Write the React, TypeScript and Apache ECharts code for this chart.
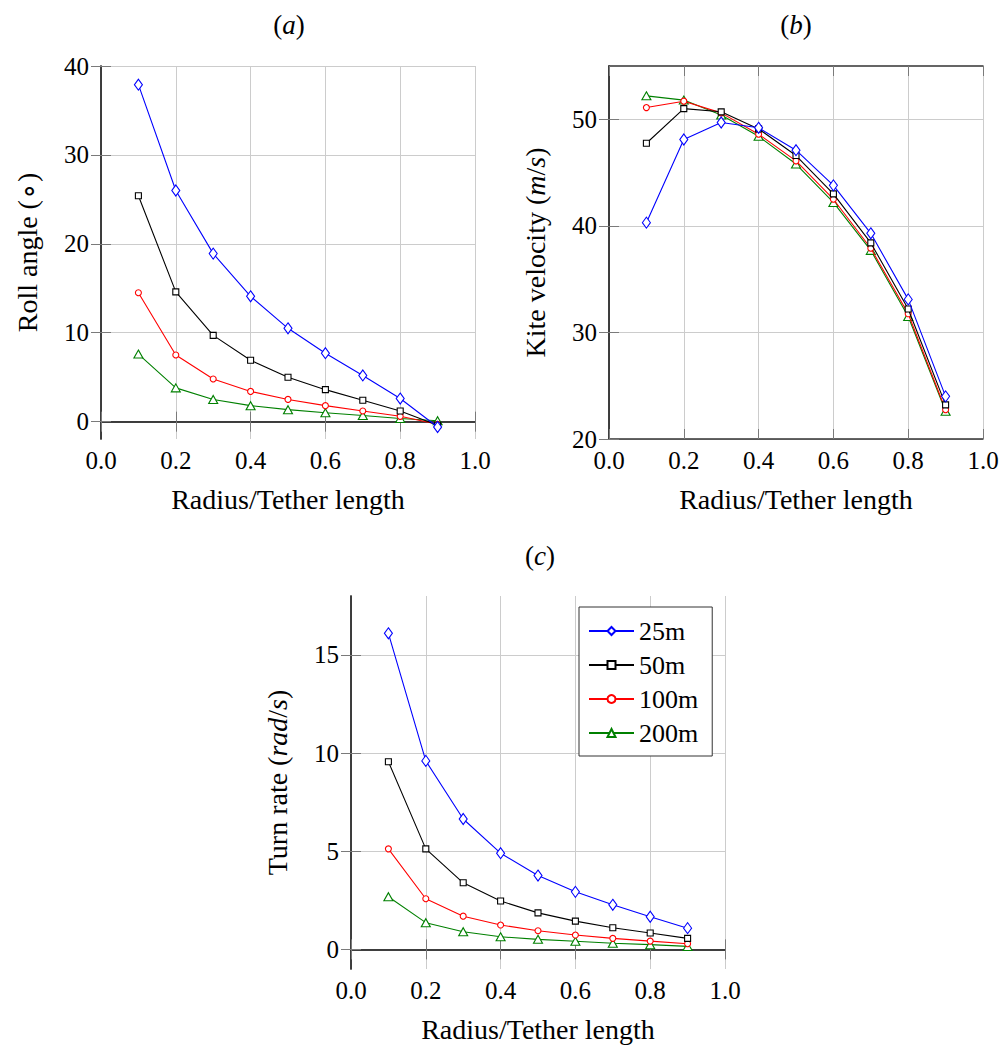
import React, { useEffect, useRef } from 'react';
import * as echarts from 'echarts';

const xValues = [0.1, 0.2, 0.3, 0.4, 0.5, 0.6, 0.7, 0.8, 0.9];
const seriesNames = ['25m', '50m', '100m', '200m'];

const rollTicks = [0, 10, 20, 30, 40];
const roll25 = [37.9, 26.0, 18.9, 14.1, 10.5, 7.7, 5.2, 2.6, -0.6];
const roll50 = [25.4, 14.6, 9.7, 6.9, 5.0, 3.6, 2.4, 1.2, -0.4];
const roll100 = [14.5, 7.5, 4.8, 3.4, 2.5, 1.8, 1.2, 0.6, -0.3];
const roll200 = [7.6, 3.8, 2.5, 1.8, 1.35, 1.0, 0.7, 0.35, 0.1];

const velTicks = [20, 30, 40, 50];
const vel25 = [40.3, 48.1, 49.7, 49.2, 47.1, 43.8, 39.3, 33.1, 24.0];
const vel50 = [47.75, 51.0, 50.7, 49.1, 46.6, 43.0, 38.4, 32.2, 23.2];
const vel100 = [51.1, 51.7, 50.6, 48.6, 46.1, 42.5, 37.9, 31.75, 22.75];
const vel200 = [52.2, 51.8, 50.4, 48.4, 45.8, 42.2, 37.7, 31.5, 22.6];

const turnTicks = [0, 5, 10, 15];
const turn25 = [16.1, 9.6, 6.64, 4.9, 3.76, 2.93, 2.27, 1.66, 1.08];
const turn50 = [9.56, 5.12, 3.39, 2.46, 1.86, 1.44, 1.1, 0.83, 0.56];
const turn100 = [5.12, 2.58, 1.69, 1.24, 0.95, 0.73, 0.56, 0.42, 0.29];
const turn200 = [2.68, 1.36, 0.9, 0.64, 0.51, 0.41, 0.31, 0.24, 0.15];

const FONT = 'Liberation Serif';
const colors = ['#0000ff', '#000000', '#ff0000', '#008000'];
const symbols = ['diamond', 'rect', 'circle', 'triangle'];
const symbolSizes: any[] = [[8, 11], 6, 6, [9, 8]];

const TICK_FS = 25;
const NAME_FS = 28;
const tickRich = { t: { fontFamily: FONT, fontSize: TICK_FS, color: '#000' } };
const legendRich = { t: { fontFamily: FONT, fontSize: 26, color: '#000', lineHeight: 25 } };
const nameRich = {
  n: { fontFamily: FONT, fontSize: NAME_FS, color: '#000' },
  i: { fontFamily: FONT, fontSize: NAME_FS, color: '#000', fontStyle: 'italic' },
};
const titleRich = {
  n: { fontFamily: FONT, fontSize: 27, color: '#000' },
  i: { fontFamily: FONT, fontSize: 27, color: '#000', fontStyle: 'italic' },
};

function buildOption() {
  const grids = [
    { left: 101, top: 66, width: 374, height: 373 },
    { left: 609, top: 66, width: 374, height: 373 },
    { left: 351, top: 596, width: 374, height: 373 },
  ];
  const yDefs = [
    { min: -1.95, max: 40, ticks: rollTicks, name: '{n|Roll angle (∘)}' },
    { min: 20, max: 55, ticks: velTicks, name: '{n|Kite velocity (}{i|m}{n|/}{i|s}{n|)}' },
    { min: -1, max: 18, ticks: turnTicks, name: '{n|Turn rate (}{i|rad}{n|/}{i|s}{n|)}' },
  ];
  const dataSets = [
    [roll25, roll50, roll100, roll200],
    [vel25, vel50, vel100, vel200],
    [turn25, turn50, turn100, turn200],
  ];
  const axisLine = { show: true, lineStyle: { color: '#333333', width: 1.5 } };
  const tick = { show: true, inside: true, length: 10, lineStyle: { color: '#7a7a7a', width: 1 } };
  const split = { show: true, lineStyle: { color: '#cccccc', width: 1 } };

  const xAxis: any[] = [];
  const yAxis: any[] = [];
  const series: any[] = [];
  grids.forEach((g, gi) => {
    xAxis.push({
      type: 'value', gridIndex: gi, position: 'bottom', min: 0, max: 1, interval: 0.2,
      axisLine, axisTick: tick, splitLine: split,
      axisLabel: {
        fontFamily: FONT, fontSize: TICK_FS, color: '#000', margin: 9, rich: tickRich,
        formatter: (v: number) => `{t|${v.toFixed(1)}}`,
      },
      name: '{n|Radius/Tether length}', nameLocation: 'middle', nameGap: 46,
      nameTextStyle: { fontFamily: FONT, fontSize: NAME_FS, color: '#000', rich: nameRich },
    });
    xAxis.push({
      type: 'value', gridIndex: gi, position: 'top', min: 0, max: 1, interval: 0.2,
      axisLine, axisTick: tick, splitLine: { show: false }, axisLabel: { show: false },
    });
    const yd = yDefs[gi];
    yAxis.push({
      type: 'value', gridIndex: gi, position: 'left', min: yd.min, max: yd.max,
      axisLine,
      axisTick: { ...tick, customValues: yd.ticks },
      splitLine: split,
      axisLabel: {
        fontFamily: FONT, fontSize: TICK_FS, color: '#000', margin: 12, rich: tickRich,
        customValues: yd.ticks, formatter: (v: number) => `{t|${v}}`,
      },
      name: yd.name, nameLocation: 'middle', nameGap: 60, nameRotate: 90,
      nameTextStyle: { fontFamily: FONT, fontSize: NAME_FS, color: '#000', rich: nameRich },
    });
    yAxis.push({
      type: 'value', gridIndex: gi, position: 'right', min: yd.min, max: yd.max,
      axisLine, axisTick: { ...tick, customValues: yd.ticks },
      splitLine: { show: false }, axisLabel: { show: false, customValues: yd.ticks },
    });
    dataSets[gi].forEach((vals, si) => {
      series.push({
        type: 'line',
        name: seriesNames[si],
        xAxisIndex: gi * 2,
        yAxisIndex: gi * 2,
        data: xValues.map((x, k) => [x, vals[k]]),
        symbol: symbols[si],
        symbolSize: symbolSizes[si],
        showSymbol: true,
        lineStyle: { color: colors[si], width: 1.1 },
        itemStyle: { color: '#ffffff', borderColor: colors[si], borderWidth: 1.1 },
        emphasis: { disabled: true },
        z: 3 + (3 - si),
      });
    });
  });

  return {
    animation: false,
    backgroundColor: '#ffffff',
    textStyle: { fontFamily: FONT },
    grid: grids.map((g) => ({ ...g, containLabel: false })),
    xAxis,
    yAxis,
    series,
    legend: {
      data: seriesNames,
      left: 579,
      top: 607,
      orient: 'vertical',
      itemWidth: 45,
      itemHeight: 10,
      itemGap: 8,
      padding: [11, 14, 10, 9],
      backgroundColor: '#ffffff',
      borderColor: '#333333',
      borderWidth: 1,
      borderRadius: 0,
      selectedMode: false,
      formatter: (name: string) => `{t|${name}}`,
      textStyle: { fontFamily: FONT, fontSize: 26, color: '#000', lineHeight: 25, rich: legendRich },
      z: 10,
    },
    graphic: [
      { x: 289, y: 25, label: 'a' },
      { x: 796, y: 25, label: 'b' },
      { x: 540, y: 556, label: 'c' },
    ].map((t) => ({
      type: 'text',
      x: t.x,
      y: t.y,
      style: {
        text: `{n|(}{i|${t.label}}{n|)}`,
        align: 'center',
        verticalAlign: 'middle',
        rich: titleRich,
        fontFamily: FONT,
        fontSize: 27,
      },
    })),
  };
}

export default function App() {
  const ref = useRef<HTMLDivElement>(null);
  useEffect(() => {
    if (!ref.current) return;
    const chart = echarts.init(ref.current, undefined, { renderer: 'svg' });
    chart.setOption(buildOption() as any);
    return () => chart.dispose();
  }, []);
  return (
    <div
      ref={ref}
      style={{ position: 'absolute', left: 0, top: 0, width: 1003, height: 1048, background: '#fff' }}
    />
  );
}
